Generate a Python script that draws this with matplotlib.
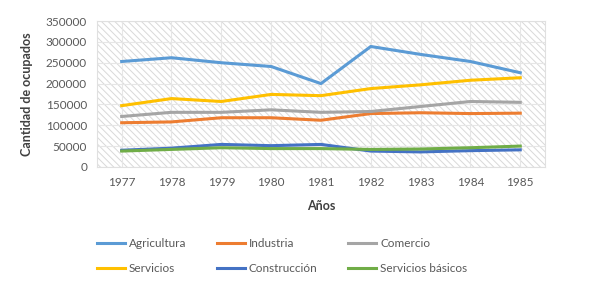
import matplotlib.pyplot as plt
import matplotlib.patches as mpatches
import numpy as np

plt.rcParams['font.family'] = ['Lato', 'DejaVu Sans']
plt.rcParams['hatch.linewidth'] = 0.7
plt.rcParams['hatch.color'] = '#d9d9d9'

anios = ['1977', '1978', '1979', '1980', '1981', '1982', '1983', '1984', '1985']
agricultura = [253000, 262000, 250000, 241000, 200000, 289000, 270000, 253000, 226000]
industria = [106000, 108000, 118000, 118000, 112000, 128000, 130000, 128000, 129000]
comercio = [121000, 131000, 131000, 137000, 131000, 133000, 145000, 157000, 155000]
servicios = [147000, 164000, 157000, 174000, 171000, 188000, 197000, 208000, 214000]
construccion = [40000, 45000, 54000, 51000, 54000, 38000, 36000, 39000, 41000]
servicios_basicos = [38000, 42000, 46000, 44000, 44000, 42000, 43000, 46000, 50000]

series = [
    ('Agricultura', agricultura, '#5b9bd5'),
    ('Industria', industria, '#ed7d31'),
    ('Comercio', comercio, '#a5a5a5'),
    ('Servicios', servicios, '#ffc000'),
    ('Construcción', construccion, '#4472c4'),
    ('Servicios básicos', servicios_basicos, '#70ad47'),
]

fig = plt.figure(figsize=(5.9, 2.81), dpi=100)
ax = fig.add_axes([0.164, 0.406, 0.76, 0.519])

x = np.arange(len(anios))

# fondo rayado
fondo = mpatches.Rectangle((0, 0), 1, 1, transform=ax.transAxes, facecolor='white',
                           edgecolor='#d9d9d9', hatch='\\' * 5, linewidth=0, zorder=0)
ax.add_patch(fondo)

lineas = []
for nombre, valores, color in series:
    l, = ax.plot(x, valores, color=color, linewidth=2.2, label=nombre, zorder=3)
    lineas.append(l)

ax.set_xlim(-0.5, len(anios) - 0.5)
ax.set_ylim(0, 350000)
ax.set_yticks(np.arange(0, 350001, 50000))
ax.set_xticks(x)
ax.set_xticklabels(anios)
ax.grid(True, color='#e6e6e6', linewidth=0.8, zorder=1)
ax.set_axisbelow(True)

for lado in ax.spines.values():
    lado.set_color('#e0e0e0')
    lado.set_linewidth(0.8)
ax.tick_params(length=0, labelsize=8.5, labelcolor='#595959', pad=7)

ax.set_ylabel('Cantidad de ocupados', fontsize=9, fontweight='bold', color='#404040', labelpad=9)
ax.set_xlabel('Años', fontsize=9, fontweight='bold', color='#404040', labelpad=9)

# la leyenda se llena por columnas: reordenar para que quede por filas
orden = [0, 3, 1, 4, 2, 5]
fig.legend([lineas[i] for i in orden], [series[i][0] for i in orden],
           loc='upper left', bbox_to_anchor=(0.146, 0.19),
           ncol=3, frameon=False, fontsize=8.5, handlelength=2.4, handletextpad=0.3,
           columnspacing=2.6, labelspacing=1.2, labelcolor='#595959')

fig.savefig('out.png', dpi=100)
